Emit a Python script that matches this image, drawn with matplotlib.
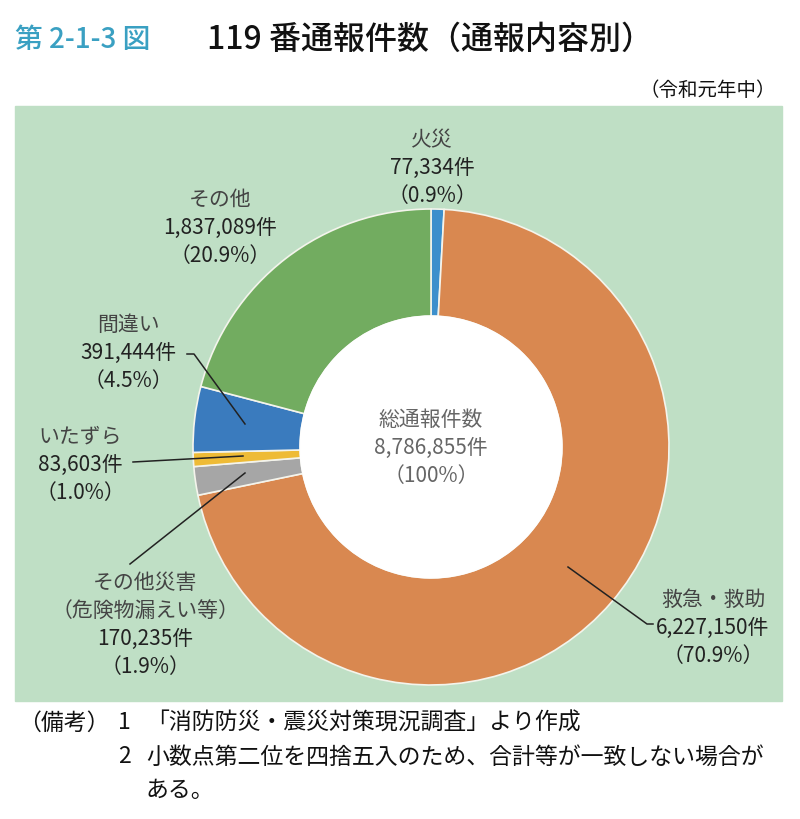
import matplotlib
matplotlib.use("Agg")
import matplotlib.pyplot as plt
from matplotlib.patches import Rectangle, Circle

plt.rcParams['font.family'] = ['Noto Sans CJK JP', 'DejaVu Sans']

# data (clockwise from top)
categories = ['火災', '救急・救助', 'その他災害\n（危険物漏えい等）', 'いたずら', '間違い', 'その他']
counts = [77334, 6227150, 170235, 83603, 391444, 1837089]
pcts = ['0.9', '70.9', '1.9', '1.0', '4.5', '20.9']
colors = ['#3C8FCC', '#D98850', '#A6A6A6', '#EEBB36', '#3A7BBE', '#72AC60']
total = 8786855

W, H = 800, 820
fig = plt.figure(figsize=(W / 100, H / 100), dpi=100)

def pixel_axes(z):
    a = fig.add_axes([0, 0, 1, 1])
    a.set_xlim(0, W)
    a.set_ylim(H, 0)
    a.axis('off')
    a.set_zorder(z)
    return a

# green panel behind
back = pixel_axes(0)
back.add_patch(Rectangle((15, 107), 767, 595, color='#BFDFC5'))

# donut
cx, cy, r = 431, 448, 238
ax = fig.add_axes([(cx - r) / W, (H - cy - r) / H, 2 * r / W, 2 * r / H])
ax.set_zorder(1)
ax.pie(counts, colors=colors, startangle=90, counterclock=False,
       wedgeprops=dict(width=0.45, edgecolor='#F4F4EC', linewidth=1.2))
ax.add_patch(Circle((0, 0), 0.55, color='white', zorder=5))
ax.set_xlim(-1, 1)
ax.set_ylim(-1, 1)
ax.set_aspect('equal')
ax.axis('off')

# text and leader lines on top
bg = pixel_axes(2)

# title
bg.text(15, 40, '第 2-1-3 図', fontsize=20, color='#3AA0C2', va='center', ha='left',
        weight='medium')
bg.text(207, 40, '119 番通報件数（通報内容別）', fontsize=23, color='#111111',
        va='center', ha='left', weight='medium')
bg.text(776, 90, '（令和元年中）', fontsize=14, color='#111111', va='center', ha='right')

# labels: (x, y of first line) for each category
label_pos = [(432, 140), (713, 600), (145, 583), (80, 437), (128, 325), (220, 200)]
lab_col = '#444444'
num_col = '#222222'
step = 28
for cat, n, p, (x, y) in zip(categories, counts, pcts, label_pos):
    lines = cat.split('\n')
    for k, ln in enumerate(lines):
        bg.text(x, y + k * step, ln, fontsize=15, color=lab_col, ha='center', va='center')
    yy = y + len(lines) * step
    bg.text(x, yy, f'{n:,}件', fontsize=15, color=num_col, ha='center', va='center')
    bg.text(x, yy + step, f'（{p}%）', fontsize=15, color=num_col, ha='center', va='center')

# centre text
for k, t in enumerate(['総通報件数', f'{total:,}件', '（100%）']):
    bg.text(cx, 420 + k * 28, t, fontsize=15, color='#666666', ha='center', va='center')

# leader lines
lc = dict(color='#222222', lw=1.1)
bg.plot([187, 194, 245], [355, 355, 425], **lc)
bg.plot([133, 243], [463, 457], **lc)
bg.plot([130, 245], [565, 474], **lc)
bg.plot([568, 647, 653], [568, 625, 625], **lc)

# notes
fs = 16.5
bg.text(18, 723, '（備考）', fontsize=fs, color='#111111', va='center', ha='left')
bg.text(118, 723, '1', fontsize=fs, color='#111111', va='center', ha='left')
bg.text(146, 723, '「消防防災・震災対策現況調査」より作成', fontsize=fs, color='#111111',
        va='center', ha='left')
bg.text(118, 757, '2', fontsize=fs, color='#111111', va='center', ha='left')
bg.text(146, 757, '小数点第二位を四捨五入のため、合計等が一致しない場合が',
        fontsize=fs, color='#111111', va='center', ha='left')
bg.text(146, 791, 'ある。', fontsize=fs, color='#111111', va='center', ha='left')

fig.savefig('out.png', dpi=100, facecolor='white')
